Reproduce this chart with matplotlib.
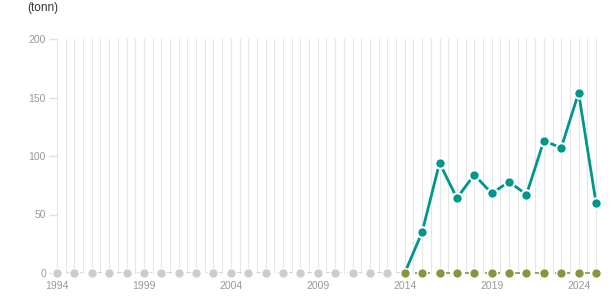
import matplotlib
matplotlib.use("Agg")
import matplotlib.pyplot as plt
import numpy as np

plt.rcParams['font.family'] = ['Liberation Sans', 'DejaVu Sans']

grey_years = list(range(1994, 2014))
grey_values = [0] * len(grey_years)
olive_years = list(range(2014, 2026))
olive_values = [0] * len(olive_years)
teal_years = list(range(2014, 2026))
teal_values = [0, 35, 94, 64, 84, 68, 78, 67, 113, 107, 154, 60]
xtick_years = [1994, 1999, 2004, 2009, 2014, 2019, 2024]
ytick_values = [0, 50, 100, 150, 200]

fig = plt.figure(figsize=(6.15, 3.05), dpi=100)
ax = fig.add_axes([57/615, 1-273/305, (596-57)/615, (273-39)/305])

for x in np.arange(1994, 2025.01, 0.5):
    ax.plot([x, x], [0, 200], color='#e6e6e6', lw=0.8, zorder=0, clip_on=False)

ax.plot(grey_years + [2014], grey_values + [0], color='#cccccc', lw=1.2, ls=(0, (3, 3)), zorder=1)
ax.plot(grey_years, grey_values, 'o', color='#cccccc', ms=7, mec='white', mew=1, zorder=2, clip_on=False)

ax.plot(olive_years, olive_values, color='#8a9440', lw=1.2, ls=(0, (3, 3)), zorder=1, clip_on=False)

ax.plot(teal_years, teal_values, color='#00968a', lw=2, zorder=3, clip_on=False)
ax.plot(teal_years[1:], teal_values[1:], 'o', color='#00968a', ms=7.5, mec='white', mew=1.5, zorder=4, clip_on=False)

ax.plot(olive_years, olive_values, 'o', color='#8a9440', ms=7, mec='white', mew=1, zorder=5, clip_on=False)

ax.set_xlim(1994, 2025)
ax.set_ylim(0, 200)
ax.set_xticks(xtick_years)
ax.set_xticklabels([str(y) for y in xtick_years])
ax.set_yticks(ytick_values)
for s in ax.spines.values():
    s.set_visible(False)
ax.tick_params(axis='x', length=0, labelsize=7.5, labelcolor='#999999', pad=5.5)
ax.tick_params(axis='y', length=6, width=1, color='#e0e0e0', labelsize=7.5, labelcolor='#999999', pad=2)
ax.set_facecolor('none')

fig.text(27/615, 1-8/305, '(tonn)', fontsize=8.5, color='#333333', va='center', ha='left')

fig.savefig('out.png', dpi=100)
